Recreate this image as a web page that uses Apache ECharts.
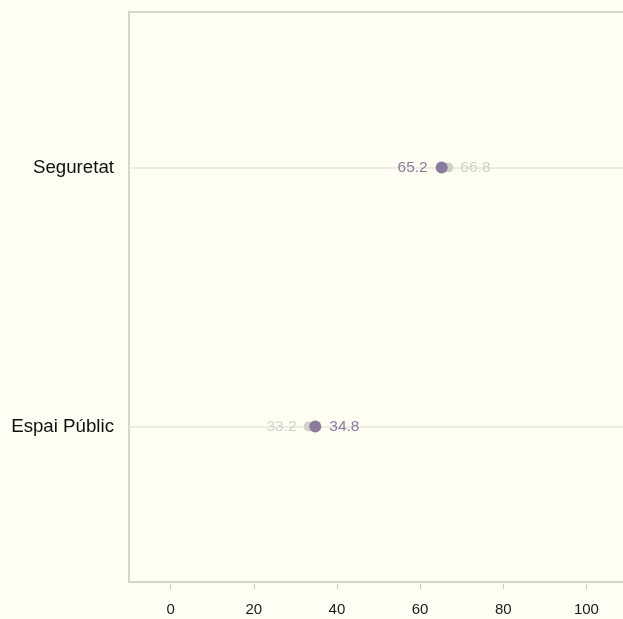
<!DOCTYPE html>
<html><head><meta charset="utf-8">
<script src="https://cdn.jsdelivr.net/npm/echarts@6/dist/echarts.min.js"></script>
<style>html,body{margin:0;padding:0;background:#fefef2;}#c{width:623px;height:619px;}</style>
</head><body><div id="c"></div>
<script>
const categories = ["Espai Públic", "Seguretat"];
const seriesA = [34.8, 65.2];   // dark purple
const seriesB = [33.2, 66.8];   // light grey
const xTicks = [0, 20, 40, 60, 80, 100];

const darkC = '#8a7a9e', lightC = '#d2d1c8';
const yPos = categories.map((c, i) => i + 1);
const FF = 'Liberation Sans, Arial, sans-serif';

function pts(vals, other, color) {
  return vals.map((v, i) => ({
    value: [v, yPos[i]],
    label: { position: v < other[i] ? 'left' : 'right', color: color }
  }));
}

const chart = echarts.init(document.getElementById('c'));
chart.setOption({
  backgroundColor: '#fefef2',
  animation: false,
  grid: { left: 129, top: 12, right: -5, bottom: 37, outerBoundsMode: 'none', containLabel: false,
    show: true, borderColor: '#d6d6cd', borderWidth: 2, backgroundColor: 'transparent' },
  xAxis: {
    type: 'value', min: -10, max: 110, offset: 2,
    axisLine: { show: false },
    splitLine: { show: false },
    axisTick: { show: true, length: 5, lineStyle: { color: '#c8c8c0' }, customValues: xTicks },
    axisLabel: { customValues: xTicks, margin: 18, fontSize: 15, color: '#1a1a1a', fontFamily: FF }
  },
  yAxis: {
    type: 'value', min: 0.4, max: 2.6,
    axisLine: { show: false },
    axisTick: { show: false, customValues: yPos },
    splitLine: { show: true, lineStyle: { color: '#e6e6dc', width: 1.5 } },
    axisLabel: { customValues: yPos, margin: 15, fontSize: 18.7, color: '#111', fontFamily: FF,
      formatter: v => categories[Math.round(v) - 1] || '' }
  },
  series: [
    { type: 'scatter', symbolSize: 10, itemStyle: { color: lightC, opacity: 1 },
      label: { show: true, fontSize: 15.5, distance: 7, fontFamily: FF, formatter: p => p.value[0].toFixed(1) },
      data: pts(seriesB, seriesA, lightC), z: 2 },
    { type: 'scatter', symbolSize: 12, itemStyle: { color: darkC, opacity: 1 },
      label: { show: true, fontSize: 15.5, distance: 8, fontFamily: FF, formatter: p => p.value[0].toFixed(1) },
      data: pts(seriesA, seriesB, darkC), z: 3 }
  ]
});
</script></body></html>
